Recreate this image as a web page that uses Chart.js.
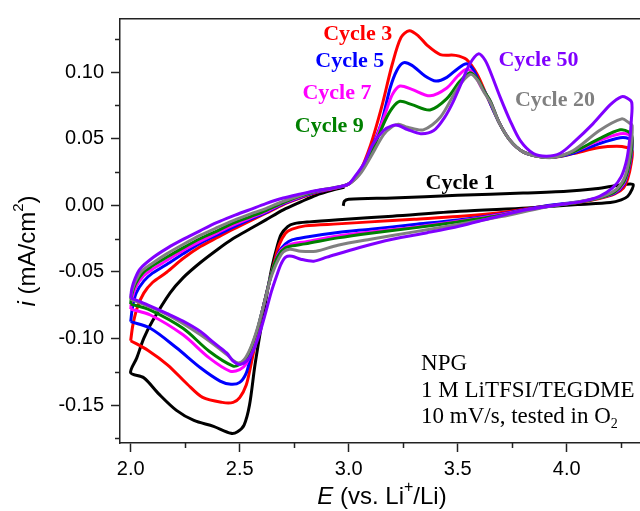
<!DOCTYPE html>
<html>
<head>
<meta charset="utf-8">
<script src="https://cdn.jsdelivr.net/npm/chart.js@4.4.0/dist/chart.umd.min.js"></script>
<style>
  html, body { margin: 0; padding: 0; background: #fff; }
  #myChart { display: block; }
</style>
</head>
<body>
<canvas id="myChart" width="640" height="511"></canvas>
<script>
// potential (V vs Li+/Li) and current (mA/cm2), one loop per cycle
const cycle1V = [2.975, 2.98, 3.0, 3.2, 3.5, 3.8, 4.0, 4.12, 4.2, 4.25, 4.29, 4.305, 4.3, 4.28, 4.25, 4.2, 4.05, 3.82, 3.51, 3.2, 2.97, 2.82, 2.75, 2.72, 2.69, 2.67, 2.65, 2.63, 2.6, 2.57, 2.545, 2.52, 2.49, 2.46, 2.38, 2.29, 2.21, 2.13, 2.06, 2.0,
  2.028, 2.06, 2.1, 2.18, 2.24, 2.32, 2.4, 2.47, 2.55, 2.62, 2.7, 2.78, 2.85, 2.93, 2.98];
const cycle1I = [-0.0005, 0.003, 0.0045, 0.0055, 0.0074, 0.0091, 0.0105, 0.0121, 0.014, 0.0153, 0.016, 0.0155, 0.012, 0.0067, 0.004, 0.002, 0.0005, -0.002, -0.0045, -0.0082, -0.0107, -0.0125, -0.0138, -0.016, -0.022, -0.032, -0.045, -0.062, -0.09, -0.12, -0.15, -0.165, -0.170, -0.1712, -0.166, -0.1616, -0.154, -0.1418, -0.1295, -0.1257,
  -0.1146, -0.100, -0.087, -0.066, -0.0545, -0.043, -0.033, -0.025, -0.0175, -0.011, -0.0035, 0.0025, 0.0075, 0.0115, 0.0135];

const cycle3V = [2.0, 2.01, 2.03, 2.06, 2.1, 2.165, 2.24, 2.32, 2.4, 2.47, 2.55, 2.62, 2.7, 2.78, 2.85, 2.93, 2.998, 3.05, 3.1, 3.15, 3.2, 3.24, 3.278, 3.32, 3.36, 3.42, 3.49, 3.54, 3.59, 3.63, 3.69, 3.74, 3.8, 3.88, 3.95, 4.03, 4.15, 4.23, 4.275, 4.3,
  4.295, 4.28, 4.26, 4.22, 4.15, 4.05, 3.9, 3.7, 3.5, 3.3, 3.1, 2.95, 2.8, 2.74, 2.71, 2.68, 2.66, 2.64, 2.61, 2.58, 2.55, 2.53, 2.5, 2.47, 2.42, 2.33, 2.26, 2.17, 2.08, 2.0];
const cycle3I = [-0.1017, -0.090, -0.077, -0.066, -0.058, -0.0503, -0.040, -0.031, -0.024, -0.018, -0.0115, -0.006, 0.0005, 0.0055, 0.0095, 0.0125, 0.0158, 0.025, 0.045, 0.073, 0.106, 0.126, 0.131, 0.127, 0.120, 0.1131, 0.1125, 0.1094, 0.098, 0.0834, 0.062, 0.0487, 0.0401, 0.0364, 0.0362, 0.0388, 0.0433, 0.0443, 0.0433, 0.041,
  0.031, 0.020, 0.013, 0.0085, 0.005, 0.002, -0.0007, -0.0055, -0.0085, -0.0105, -0.0125, -0.014, -0.0155, -0.018, -0.021, -0.030, -0.042, -0.055, -0.075, -0.097, -0.121, -0.135, -0.1445, -0.148, -0.148, -0.1443, -0.1344, -0.120, -0.109, -0.1017];

const cycle5V = [2.0, 2.008, 2.025, 2.06, 2.1, 2.165, 2.24, 2.32, 2.4, 2.47, 2.55, 2.62, 2.7, 2.78, 2.85, 2.93, 2.998, 3.05, 3.1, 3.15, 3.19, 3.22, 3.25, 3.29, 3.35, 3.4, 3.45, 3.5, 3.54, 3.57, 3.6, 3.63, 3.69, 3.74, 3.8, 3.88, 3.94, 4.03, 4.15, 4.245, 4.285, 4.3,
  4.295, 4.28, 4.26, 4.22, 4.15, 4.05, 3.9, 3.7, 3.5, 3.3, 3.1, 2.95, 2.8, 2.74, 2.71, 2.68, 2.66, 2.64, 2.61, 2.58, 2.55, 2.53, 2.5, 2.46, 2.41, 2.32, 2.21, 2.09, 2.0];
const cycle5I = [-0.0874, -0.077, -0.066, -0.057, -0.051, -0.0445, -0.0365, -0.0285, -0.022, -0.0165, -0.0105, -0.0055, 0.001, 0.006, 0.0098, 0.0127, 0.0158, 0.025, 0.041, 0.062, 0.088, 0.101, 0.1069, 0.105, 0.097, 0.0932, 0.096, 0.1025, 0.1062, 0.102, 0.092, 0.0834, 0.062, 0.0487, 0.0401, 0.0364, 0.036, 0.039, 0.0463, 0.0507, 0.050, 0.047,
  0.036, 0.024, 0.015, 0.009, 0.0055, 0.0025, -0.0005, -0.0065, -0.011, -0.0145, -0.018, -0.0205, -0.024, -0.026, -0.029, -0.035, -0.044, -0.055, -0.075, -0.095, -0.114, -0.126, -0.133, -0.1344, -0.132, -0.122, -0.107, -0.0924, -0.0874];

const cycle7V = [2.0, 2.006, 2.025, 2.06, 2.1, 2.165, 2.24, 2.32, 2.4, 2.47, 2.55, 2.62, 2.7, 2.78, 2.85, 2.93, 2.998, 3.05, 3.1, 3.167, 3.2, 3.235, 3.29, 3.373, 3.45, 3.5, 3.541, 3.575, 3.61, 3.65, 3.69, 3.74, 3.8, 3.88, 3.94, 4.03, 4.15, 4.245, 4.285, 4.3,
  4.295, 4.28, 4.26, 4.22, 4.15, 4.05, 3.9, 3.7, 3.5, 3.3, 3.1, 2.95, 2.8, 2.74, 2.71, 2.68, 2.66, 2.64, 2.61, 2.58, 2.55, 2.53, 2.5, 2.455, 2.36, 2.24, 2.09, 2.0];
const cycle7I = [-0.078, -0.070, -0.061, -0.053, -0.048, -0.0415, -0.034, -0.027, -0.0205, -0.015, -0.0095, -0.0048, 0.0015, 0.0065, 0.0102, 0.0128, 0.0158, 0.024, 0.039, 0.0685, 0.083, 0.0895, 0.087, 0.0821, 0.088, 0.097, 0.102, 0.098, 0.088, 0.078, 0.062, 0.0487, 0.0401, 0.0364, 0.036, 0.040, 0.0487, 0.0537, 0.053, 0.050,
  0.038, 0.025, 0.016, 0.0095, 0.0055, 0.0022, -0.001, -0.007, -0.012, -0.0165, -0.020, -0.023, -0.0275, -0.029, -0.031, -0.036, -0.044, -0.055, -0.075, -0.095, -0.111, -0.119, -0.1235, -0.1245, -0.1146, -0.0973, -0.0824, -0.078];

const cycle9V = [2.0, 2.005, 2.022, 2.055, 2.1, 2.165, 2.24, 2.32, 2.4, 2.47, 2.55, 2.62, 2.7, 2.78, 2.85, 2.93, 2.998, 3.05, 3.1, 3.167, 3.2, 3.235, 3.29, 3.373, 3.45, 3.51, 3.557, 3.59, 3.62, 3.65, 3.69, 3.74, 3.8, 3.88, 3.94, 4.03, 4.15, 4.245, 4.285, 4.3,
  4.295, 4.28, 4.26, 4.22, 4.15, 4.05, 3.9, 3.7, 3.5, 3.3, 3.1, 2.95, 2.8, 2.74, 2.71, 2.68, 2.66, 2.64, 2.61, 2.58, 2.55, 2.53, 2.5, 2.47, 2.36, 2.24, 2.09, 2.0];
const cycle9I = [-0.0742, -0.067, -0.059, -0.051, -0.0455, -0.039, -0.032, -0.025, -0.019, -0.0135, -0.0085, -0.004, 0.002, 0.007, 0.0105, 0.013, 0.0158, 0.024, 0.038, 0.0636, 0.073, 0.078, 0.0755, 0.0715, 0.080, 0.093, 0.0995, 0.095, 0.086, 0.078, 0.062, 0.0487, 0.0401, 0.0364, 0.036, 0.040, 0.050, 0.0566, 0.055, 0.051,
  0.039, 0.026, 0.017, 0.010, 0.0055, 0.002, -0.0012, -0.0075, -0.0125, -0.017, -0.021, -0.0245, -0.029, -0.0305, -0.032, -0.037, -0.044, -0.055, -0.075, -0.094, -0.108, -0.115, -0.1195, -0.1208, -0.1096, -0.0924, -0.0787, -0.0742];

const cycle20V = [2.0, 2.005, 2.022, 2.05, 2.1, 2.165, 2.24, 2.32, 2.4, 2.47, 2.55, 2.62, 2.7, 2.78, 2.85, 2.93, 2.998, 3.05, 3.1, 3.16, 3.2, 3.228, 3.27, 3.342, 3.42, 3.5, 3.557, 3.59, 3.62, 3.65, 3.69, 3.74, 3.8, 3.88, 3.94, 4.03, 4.15, 4.252, 4.285, 4.3,
  4.295, 4.28, 4.26, 4.22, 4.15, 4.05, 3.9, 3.7, 3.5, 3.3, 3.1, 2.95, 2.85, 2.78, 2.73, 2.7, 2.68, 2.66, 2.64, 2.61, 2.58, 2.55, 2.52, 2.495, 2.47, 2.44, 2.32, 2.17, 2.0];
const cycle20I = [-0.0705, -0.065, -0.057, -0.0495, -0.0435, -0.0365, -0.0295, -0.0225, -0.0165, -0.0115, -0.0065, -0.0025, 0.003, 0.0075, 0.0108, 0.013, 0.0158, 0.023, 0.036, 0.053, 0.059, 0.0608, 0.0585, 0.0566, 0.066, 0.088, 0.0982, 0.094, 0.085, 0.077, 0.062, 0.0487, 0.0401, 0.0364, 0.036, 0.041, 0.0561, 0.0648, 0.062, 0.060,
  0.045, 0.029, 0.019, 0.011, 0.006, 0.0025, -0.0015, -0.0085, -0.0145, -0.020, -0.0255, -0.030, -0.0345, -0.0345, -0.033, -0.035, -0.040, -0.047, -0.056, -0.075, -0.093, -0.107, -0.116, -0.1185, -0.1165, -0.112, -0.0973, -0.0824, -0.0705];

const cycle50V = [2.0, 2.005, 2.02, 2.043, 2.104, 2.17, 2.242, 2.32, 2.394, 2.47, 2.547, 2.62, 2.7, 2.78, 2.853, 2.93, 2.998, 3.03, 3.07, 3.11, 3.16, 3.2, 3.228, 3.27, 3.33, 3.39, 3.44, 3.48, 3.52, 3.555, 3.595, 3.625, 3.65, 3.695, 3.74, 3.786, 3.847, 3.908, 3.97, 4.03, 4.12, 4.2, 4.25, 4.275, 4.298,
  4.296, 4.29, 4.275, 4.25, 4.21, 4.15, 4.06, 3.97, 3.82, 3.66, 3.51, 3.36, 3.2, 3.05, 2.9, 2.84, 2.78, 2.74, 2.71, 2.69, 2.67, 2.645, 2.62, 2.59, 2.56, 2.535, 2.5, 2.47, 2.44, 2.38, 2.32, 2.24, 2.165, 2.08, 2.0];
const cycle50I = [-0.0696, -0.0627, -0.055, -0.0478, -0.0391, -0.032, -0.0255, -0.019, -0.0131, -0.008, -0.0033, 0.0012, 0.0054, 0.0085, 0.0111, 0.013, 0.0158, 0.022, 0.0314, 0.0455, 0.0561, 0.0598, 0.0598, 0.0568, 0.0537, 0.0561, 0.066, 0.078, 0.093, 0.106, 0.1136, 0.109, 0.100, 0.081, 0.0636, 0.0487, 0.0388, 0.0368, 0.039, 0.047, 0.0611, 0.0755, 0.0814, 0.0806, 0.0772,
  0.063, 0.0512, 0.034, 0.0215, 0.013, 0.0067, 0.0025, 0.0005, -0.0033, -0.0094, -0.0156, -0.0206, -0.0255, -0.0317, -0.039, -0.042, -0.0405, -0.0383, -0.039, -0.044, -0.0527, -0.065, -0.080, -0.097, -0.110, -0.1165, -0.1195, -0.117, -0.1109, -0.103, -0.0948, -0.087, -0.0812, -0.075, -0.0696];

const xTicksStep = 0.5;
const yTicksStep = 0.05;
const xMinorTicks = [2.25, 2.75, 3.25, 3.75, 4.25];
const yMinorTicks = [0.125, 0.075, 0.025, -0.025, -0.075, -0.125, -0.175];

const cycleLabels = ["Cycle 1", "Cycle 3", "Cycle 5", "Cycle 7", "Cycle 9", "Cycle 20", "Cycle 50"];
const labelColors = ["#000000", "#ff0000", "#0000ff", "#ff00ff", "#008000", "#808080", "#8000ff"];
// where each label sits, in axis units
const labelV = [3.511, 3.041, 3.005, 2.946, 2.911, 3.946, 3.870];
const labelI = [0.0166, 0.1284, 0.1081, 0.0839, 0.0591, 0.0789, 0.1086];

const noteLines = ["NPG", "1 M LiTFSI/TEGDME", "10 mV/s, tested in O"];
const noteV = 3.332;
const noteI = [-0.1195, -0.1393, -0.1592];

function pts(vs, is) {
  return vs.map((v, k) => ({ x: v, y: is[k] }));
}

const AXIS = "#222";
const SANS = '"Liberation Sans", Arial, sans-serif';
const SERIF = '"Liberation Serif", "Times New Roman", serif';

// minor ticks, axis titles and text notes
const extras = {
  id: "extras",
  afterDraw(chart) {
    const ctx = chart.ctx;
    const xs = chart.scales.x, ys = chart.scales.y;
    const area = chart.chartArea;
    ctx.save();
    ctx.strokeStyle = AXIS;
    ctx.lineWidth = 1.5;
    ctx.beginPath();
    xMinorTicks.forEach(v => {
      const px = Math.round(xs.getPixelForValue(v)) + 0.5;
      ctx.moveTo(px, area.bottom);
      ctx.lineTo(px, area.bottom + 5);
    });
    yMinorTicks.forEach(v => {
      const py = Math.round(ys.getPixelForValue(v)) + 0.5;
      ctx.moveTo(area.left, py);
      ctx.lineTo(area.left - 5, py);
    });
    ctx.stroke();

    // y title: i (mA/cm2)
    ctx.fillStyle = "#000";
    ctx.textBaseline = "middle";
    ctx.textAlign = "left";
    let parts = [
      { t: "i", f: "italic 24px " + SANS, dy: 0 },
      { t: " (mA/cm", f: "24px " + SANS, dy: 0 },
      { t: "2", f: "15px " + SANS, dy: -9 },
      { t: ")", f: "24px " + SANS, dy: 0 }
    ];
    drawParts(ctx, parts, 28, (area.top + area.bottom) / 2 + 20, -Math.PI / 2);

    // x title: E (vs. Li+/Li)
    parts = [
      { t: "E", f: "italic 24px " + SANS, dy: 0 },
      { t: " (vs. Li", f: "24px " + SANS, dy: 0 },
      { t: "+", f: "16px " + SANS, dy: -9 },
      { t: "/Li)", f: "24px " + SANS, dy: 0 }
    ];
    drawParts(ctx, parts, (area.left + area.right) / 2 + 2, 497, 0);

    // cycle labels
    ctx.textAlign = "center";
    ctx.font = "bold 22px " + SERIF;
    cycleLabels.forEach((s, k) => {
      ctx.fillStyle = labelColors[k];
      ctx.fillText(s, xs.getPixelForValue(labelV[k]), ys.getPixelForValue(labelI[k]));
    });

    // note
    ctx.textAlign = "left";
    ctx.fillStyle = "#000";
    ctx.font = "23px " + SERIF;
    const nx = xs.getPixelForValue(noteV);
    noteLines.forEach((s, k) => {
      ctx.font = "23px " + SERIF;
      const ny = ys.getPixelForValue(noteI[k]);
      ctx.fillText(s, nx, ny);
      if (k === 2) {
        const w = ctx.measureText(s).width;
        ctx.font = "14px " + SERIF;
        ctx.fillText("2", nx + w, ny + 7);
      }
    });
    ctx.restore();
  }
};

function drawParts(ctx, parts, cx, cy, rot) {
  let total = 0;
  parts.forEach(p => { ctx.font = p.f; p.w = ctx.measureText(p.t).width; total += p.w; });
  ctx.save();
  ctx.translate(cx, cy);
  ctx.rotate(rot);
  let x = -total / 2;
  parts.forEach(p => {
    ctx.font = p.f;
    ctx.fillText(p.t, x, p.dy);
    x += p.w;
  });
  ctx.restore();
}

function ds(label, vs, is, color, width) {
  return {
    label: label,
    data: pts(vs, is),
    borderColor: color,
    backgroundColor: color,
    borderWidth: width,
    pointRadius: 0,
    showLine: true,
    fill: false,
    tension: 0.3
  };
}

const ctx = document.getElementById("myChart");

const myChart = new Chart(ctx, {
  type: "scatter",
  data: {
    datasets: [
      ds("Cycle 50", cycle50V, cycle50I, "#8000ff", 3),
      ds("Cycle 20", cycle20V, cycle20I, "#808080", 3),
      ds("Cycle 9", cycle9V, cycle9I, "#008000", 3),
      ds("Cycle 7", cycle7V, cycle7I, "#ff00ff", 3),
      ds("Cycle 5", cycle5V, cycle5I, "#0000ff", 3),
      ds("Cycle 3", cycle3V, cycle3I, "#ff0000", 3),
      ds("Cycle 1", cycle1V, cycle1I, "#000000", 3)
    ]
  },
  options: {
    responsive: false,
    animation: false,
    layout: { padding: { top: 14, right: 0, left: 0, bottom: 0 } },
    plugins: { legend: { display: false }, tooltip: { enabled: false } },
    scales: {
      x: {
        type: "linear",
        min: 1.951,
        max: 4.336,
        afterFit: s => { s.height = 68; },
        ticks: {
          stepSize: xTicksStep,
          includeBounds: false,
          color: "#000",
          padding: 5,
          maxRotation: 0,
          font: { family: SANS, size: 20 },
          callback: v => Number(v).toFixed(1)
        },
        grid: { drawOnChartArea: false, drawTicks: true, tickLength: 9, tickWidth: 1.5, tickColor: AXIS },
        border: { display: true, color: AXIS, width: 1.5 }
      },
      xTop: {
        type: "linear",
        position: "top",
        min: 1.951,
        max: 4.336,
        afterFit: s => { s.height = 0; },
        ticks: { display: false },
        grid: { drawOnChartArea: false, drawTicks: false },
        border: { display: true, color: AXIS, width: 1.5 }
      },
      y: {
        type: "linear",
        min: -0.1785,
        max: 0.1398,
        afterFit: s => { s.width = 120; },
        ticks: {
          stepSize: yTicksStep,
          includeBounds: false,
          color: "#000",
          padding: 7,
          font: { family: SANS, size: 20 },
          callback: v => Number(v).toFixed(2)
        },
        grid: { drawOnChartArea: false, drawTicks: true, tickLength: 9, tickWidth: 1.5, tickColor: AXIS },
        border: { display: true, color: AXIS, width: 1.5 }
      }
    }
  },
  plugins: [extras]
});
</script>
</body>
</html>
